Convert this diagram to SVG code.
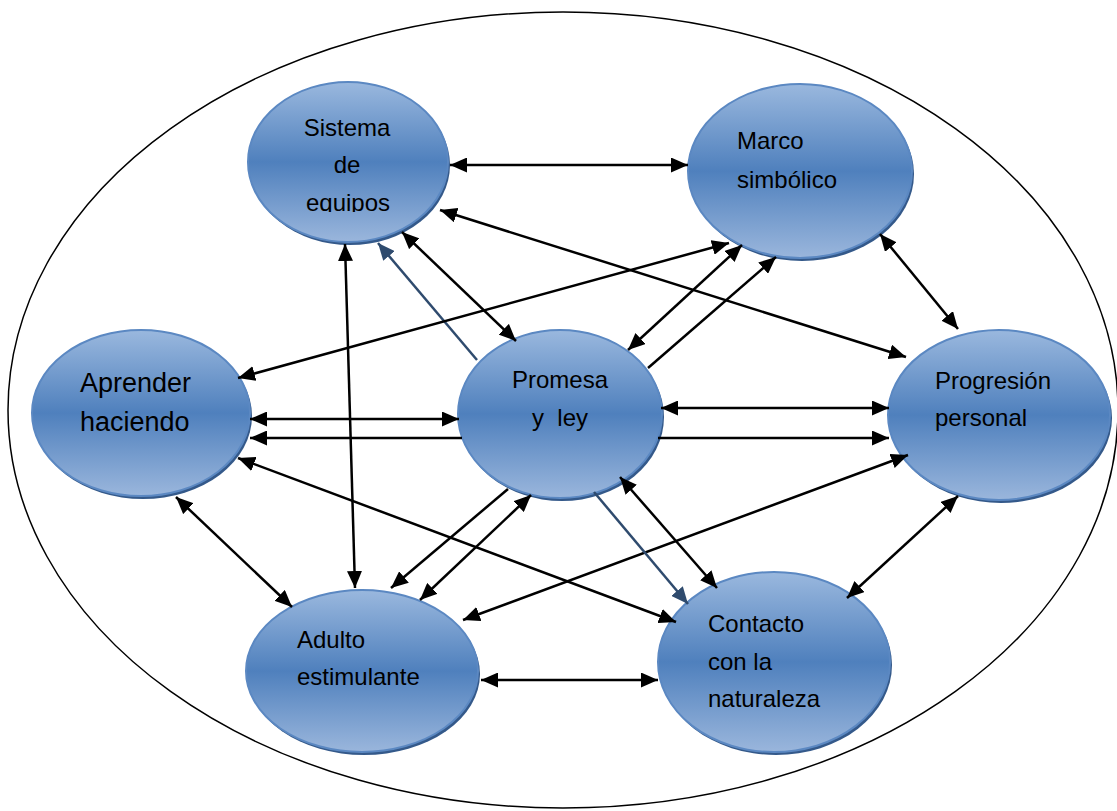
<svg xmlns="http://www.w3.org/2000/svg" width="1117" height="811" viewBox="0 0 1117 811">
<style>
.lbl{font-family:"Liberation Sans",Arial,sans-serif;font-size:24px;fill:#000}
.big{font-size:27px}
.c{stroke:#000;stroke-width:2.5;fill:none}
.d{marker-start:url(#ah);marker-end:url(#ah)}
.s{marker-end:url(#ah)}
.b{stroke:#2f4b6e;stroke-width:2.5;fill:none;marker-end:url(#ahb)}
.shadow{fill:#34598a}
.body{fill:url(#g);stroke:#5b88c2;stroke-width:2}
</style>
<defs>
<linearGradient id="g" x1="0" y1="0" x2="0" y2="1">
<stop offset="0" stop-color="#9ab8de"/>
<stop offset="0.5" stop-color="#4f80bd"/>
<stop offset="1" stop-color="#9ab6dc"/>
</linearGradient>
<marker id="ah" markerUnits="userSpaceOnUse" markerWidth="17" markerHeight="15" viewBox="0 0 17 15" refX="17" refY="7.5" orient="auto-start-reverse">
<path d="M0,0 L17,7.5 L0,15 z" fill="#000"/>
</marker>
<marker id="ahb" markerUnits="userSpaceOnUse" markerWidth="17" markerHeight="15" viewBox="0 0 17 15" refX="17" refY="7.5" orient="auto-start-reverse">
<path d="M0,0 L17,7.5 L0,15 z" fill="#2f4b6e"/>
</marker>
<clipPath id="clipS"><rect x="240" y="80" width="220" height="132"/></clipPath>
</defs>
<rect width="1117" height="811" fill="#fff"/>
<ellipse cx="563" cy="410" rx="555" ry="398" fill="none" stroke="#000" stroke-width="1.5"/>

<g id="nodes">
<g id="sistema">
<ellipse class="shadow" cx="350" cy="165" rx="100" ry="80"/>
<ellipse class="body" cx="348" cy="162" rx="100" ry="80"/>
<g clip-path="url(#clipS)">
<text class="lbl" text-anchor="middle"><tspan x="347" y="136">Sistema</tspan><tspan x="347" y="173">de</tspan><tspan x="348" y="211">equipos</tspan></text>
</g>
</g>
<g id="marco">
<ellipse class="shadow" cx="802" cy="174" rx="112" ry="87"/>
<ellipse class="body" cx="800" cy="171" rx="112" ry="87"/>
<text class="lbl"><tspan x="737" y="149">Marco</tspan><tspan x="737" y="188">simbólico</tspan></text>
</g>
<g id="aprender">
<ellipse class="shadow" cx="143" cy="416" rx="109" ry="83"/>
<ellipse class="body" cx="141" cy="413" rx="109" ry="83"/>
<text class="lbl big"><tspan x="80" y="392">Aprender</tspan><tspan x="80" y="431">haciendo</tspan></text>
</g>
<g id="promesa">
<ellipse class="shadow" cx="562" cy="417" rx="102" ry="84"/>
<ellipse class="body" cx="560" cy="414" rx="102" ry="84"/>
<text class="lbl" text-anchor="middle" xml:space="preserve"><tspan x="560" y="388">Promesa</tspan><tspan x="560" y="426">y  ley</tspan></text>
</g>
<g id="progresion">
<ellipse class="shadow" cx="1001" cy="418" rx="111" ry="85"/>
<ellipse class="body" cx="999" cy="415" rx="111" ry="85"/>
<text class="lbl"><tspan x="935" y="389">Progresión</tspan><tspan x="935" y="426">personal</tspan></text>
</g>
<g id="adulto">
<ellipse class="shadow" cx="364" cy="674" rx="116" ry="81"/>
<ellipse class="body" cx="362" cy="671" rx="116" ry="81"/>
<text class="lbl"><tspan x="297" y="648">Adulto</tspan><tspan x="297" y="685">estimulante</tspan></text>
</g>
<g id="contacto">
<ellipse class="shadow" cx="776" cy="665" rx="116" ry="90"/>
<ellipse class="body" cx="774" cy="662" rx="116" ry="90"/>
<text class="lbl"><tspan x="708" y="632">Contacto</tspan><tspan x="708" y="670">con la</tspan><tspan x="708" y="707">naturaleza</tspan></text>
</g>
</g>

<g id="connectors">
<line class="c d" x1="450" y1="165" x2="688" y2="165"/>
<line class="c d" x1="440" y1="210" x2="906" y2="357"/>
<line class="c d" x1="402" y1="232" x2="516" y2="341"/>
<line class="b" x1="477" y1="360" x2="378" y2="243"/>
<line class="c d" x1="345" y1="244" x2="355" y2="588"/>
<line class="c d" x1="238" y1="378" x2="729" y2="243"/>
<line class="c d" x1="628" y1="350" x2="742" y2="245"/>
<line class="c s" x1="648" y1="368" x2="776" y2="257"/>
<line class="c d" x1="880" y1="234" x2="958" y2="329"/>
<line class="c d" x1="250" y1="419" x2="459" y2="419"/>
<line class="c s" x1="462" y1="438" x2="250" y2="438"/>
<line class="c d" x1="661" y1="408" x2="889" y2="408"/>
<line class="c s" x1="658" y1="438" x2="889" y2="438"/>
<line class="c d" x1="238" y1="458" x2="676" y2="622"/>
<line class="c d" x1="176" y1="497" x2="292" y2="607"/>
<line class="c s" x1="508" y1="489" x2="391" y2="588"/>
<line class="c d" x1="420" y1="600" x2="531" y2="495"/>
<line class="c d" x1="463" y1="620" x2="908" y2="455"/>
<line class="b" x1="594" y1="492" x2="688" y2="604"/>
<line class="c d" x1="620" y1="477" x2="717" y2="588"/>
<line class="c d" x1="958" y1="496" x2="847" y2="598"/>
<line class="c d" x1="481" y1="680" x2="658" y2="680"/>
</g>
</svg>
